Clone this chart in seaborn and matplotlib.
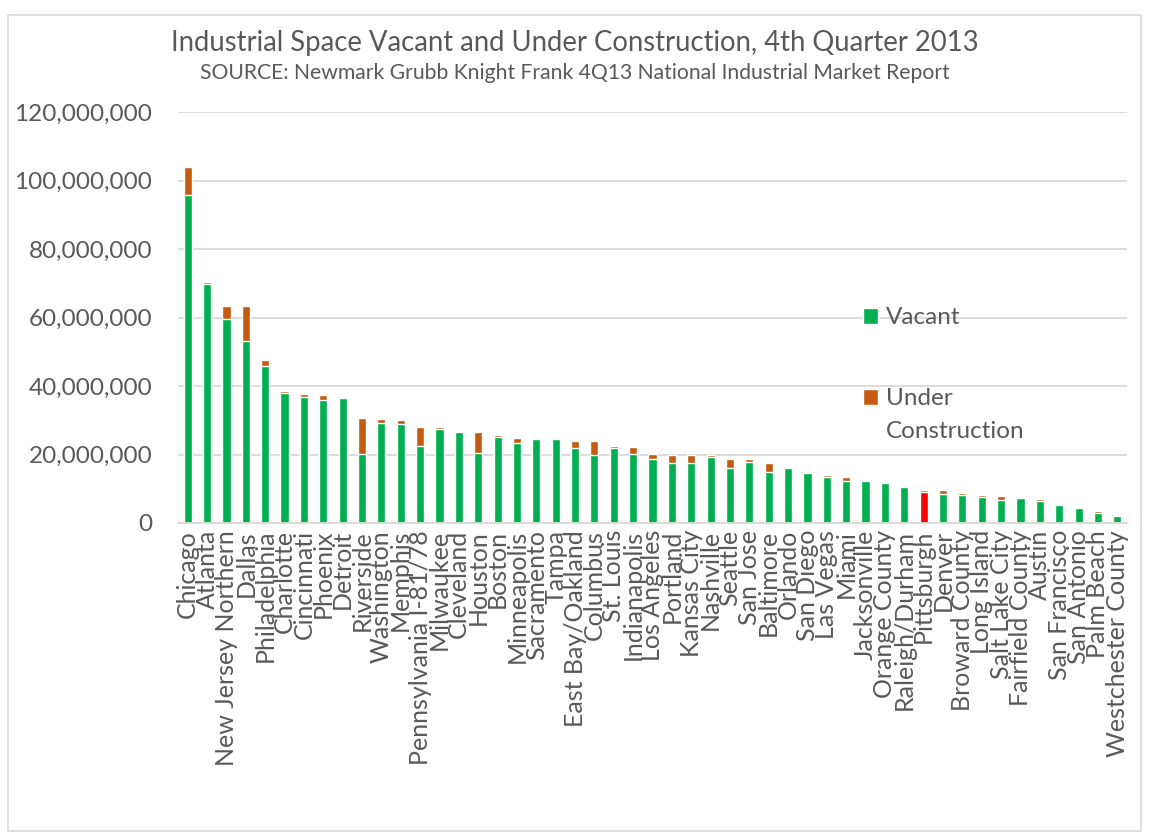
import matplotlib
matplotlib.use("Agg")
import matplotlib.pyplot as plt
import seaborn as sns
import pandas as pd
import numpy as np
from matplotlib.patches import Patch, Rectangle
from matplotlib.ticker import FuncFormatter

cities = ["Chicago", "Atlanta", "New Jersey Northern", "Dallas", "Philadelphia",
          "Charlotte", "Cincinnati", "Phoenix", "Detroit", "Riverside",
          "Washington", "Memphis", "Pennsylvania I-81/78", "Milwaukee", "Cleveland",
          "Houston", "Boston", "Minneapolis", "Sacramento", "Tampa",
          "East Bay/Oakland", "Columbus", "St. Louis", "Indianapolis", "Los Angeles",
          "Portland", "Kansas City", "Nashville", "Seattle", "San Jose",
          "Baltimore", "Orlando", "San Diego", "Las Vegas", "Miami",
          "Jacksonville", "Orange County", "Raleigh/Durham", "Pittsburgh", "Denver",
          "Broward County", "Long Island", "Salt Lake City", "Fairfield County", "Austin",
          "San Francisco", "San Antonio", "Palm Beach", "Westchester County"]

# millions of sq ft
vacant = [95.7, 69.9, 59.5, 53.1, 45.7,
          38.1, 36.8, 35.8, 36.4, 20.1,
          29.2, 28.8, 22.4, 27.4, 26.5,
          20.5, 25.2, 23.5, 24.4, 24.4,
          21.8, 19.8, 21.8, 20.1, 18.7,
          17.5, 17.5, 19.3, 16.0, 17.7,
          14.8, 16.0, 14.5, 13.5, 12.3,
          12.2, 11.6, 10.6, 9.0, 8.4,
          8.2, 7.7, 6.7, 7.3, 6.5,
          5.2, 4.4, 3.0, 2.0]

under_construction = [8.3, 0.5, 4.0, 10.3, 2.0,
                      0.3, 0.8, 1.5, 0.3, 10.5,
                      1.1, 1.2, 5.5, 0.5, 0.3,
                      6.0, 0.4, 1.2, 0.3, 0.0,
                      2.0, 4.0, 0.6, 2.0, 1.4,
                      2.3, 2.3, 0.5, 2.6, 0.9,
                      2.6, 0.3, 0.3, 0.5, 1.1,
                      0.0, 0.0, 0.2, 0.6, 1.2,
                      0.5, 0.4, 1.1, 0.3, 0.5,
                      0.0, 0.3, 0.5, 0.0]

highlight = "Pittsburgh"

GREEN = "#00B050"
ORANGE = "#C55A11"
RED = "#FF0000"
TEXT = "#595959"
GRID = "#D9D9D9"

df = pd.DataFrame({"city": cities,
                   "vacant": np.array(vacant) * 1e6,
                   "under": np.array(under_construction) * 1e6})
df["total"] = df.vacant + df.under

sns.set_style("white")
plt.rcParams["font.family"] = ["Lato", "DejaVu Sans"]

fig = plt.figure(figsize=(11.5, 8.38), dpi=100)
ax = fig.add_axes([0.1548, 0.3759, 0.98 - 0.1548, 0.8663 - 0.3759])

sns.barplot(data=df, x="city", y="total", color=ORANGE, width=0.42,
            saturation=1, ax=ax)
green_pal = {c: (RED if c == highlight else GREEN) for c in cities}
sns.barplot(data=df, x="city", y="vacant", hue="city", palette=green_pal,
            width=0.42, saturation=1, legend=False, ax=ax)

ax.set_ylim(0, 120e6)
ax.set_xlim(-0.5, len(cities) - 0.5)
ax.set_yticks(np.arange(0, 120e6 + 1, 20e6))
ax.yaxis.set_major_formatter(FuncFormatter(lambda v, p: f"{v:,.0f}"))
ax.yaxis.grid(True, color=GRID, linewidth=1.3)
ax.set_axisbelow(True)
ax.set_xlabel("")
ax.set_ylabel("")
for s in ["top", "right", "left"]:
    ax.spines[s].set_visible(False)
ax.spines["bottom"].set_color(GRID)
ax.spines["bottom"].set_linewidth(1.3)
ax.tick_params(axis="both", length=0, colors=TEXT)
ax.tick_params(axis="y", pad=18.5, labelsize=17.5)
ax.tick_params(axis="x", pad=5, labelsize=18)
plt.setp(ax.get_xticklabels(), rotation=90)

# legend: two pieces so the orange square sits next to the first line
leg_kw = dict(frameon=False, fontsize=17.5, borderpad=0, borderaxespad=0,
              handlelength=0.6, handleheight=0.6, handletextpad=0.35)
leg1 = ax.legend(handles=[Patch(facecolor=GREEN, label="Vacant")],
                 loc="center left", bbox_to_anchor=(0.722, 0.499), **leg_kw)
for t in leg1.get_texts():
    t.set_color(TEXT)
ax.add_artist(leg1)
leg2 = ax.legend(handles=[Patch(facecolor=ORANGE, label="Under"),
                          Patch(facecolor="none", edgecolor="none", label="Construction")],
                 loc="center left", bbox_to_anchor=(0.722, 0.262),
                 labelspacing=0.48, **leg_kw)
for t in leg2.get_texts():
    t.set_color(TEXT)

fig.text(0.5, 0.949, "Industrial Space Vacant and Under Construction, 4th Quarter 2013",
         ha="center", va="center", fontsize=19.8, color=TEXT)
fig.text(0.5, 0.913, "SOURCE: Newmark Grubb Knight Frank 4Q13 National Industrial Market Report",
         ha="center", va="center", fontsize=15.2, color=TEXT)

fig.patches.append(Rectangle((8 / 1150, 7 / 838), 1133 / 1150, 816 / 838,
                             transform=fig.transFigure, fill=False,
                             edgecolor=GRID, linewidth=1.2))

fig.savefig("out.png", dpi=100)
